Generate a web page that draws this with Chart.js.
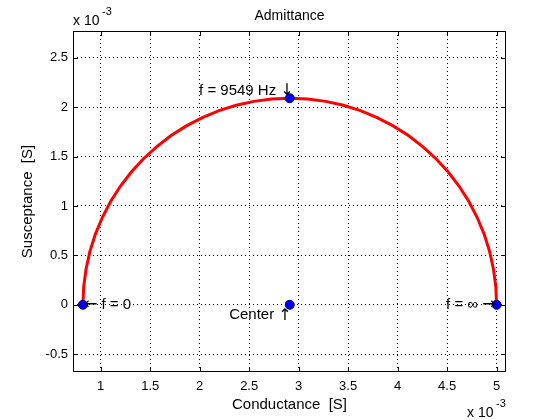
<!DOCTYPE html>
<html>
<head>
<meta charset="utf-8">
<script src="https://cdn.jsdelivr.net/npm/chart.js@4/dist/chart.umd.min.js"></script>
<style>
  html, body { margin: 0; padding: 0; background: #fff; }
</style>
</head>
<body>
<canvas id="admittance" width="560" height="420"></canvas>
<script>
// values in units of 10^-3 S
const conductance = [0.82, 0.828, 0.852, 0.891, 0.946, 1.016, 1.100, 1.198, 1.309, 1.432,
  1.567, 1.711, 1.865, 2.027, 2.195, 2.369, 2.547, 2.728, 2.91, 3.092, 3.273, 3.451,
  3.625, 3.793, 3.955, 4.109, 4.253, 4.388, 4.511, 4.622, 4.720, 4.804, 4.874, 4.929,
  4.968, 4.992, 5.00];
const susceptance = [0, 0.182, 0.363, 0.541, 0.715, 0.883, 1.045, 1.199, 1.343, 1.478,
  1.601, 1.712, 1.810, 1.894, 1.964, 2.019, 2.058, 2.082, 2.09, 2.082, 2.058, 2.019,
  1.964, 1.894, 1.810, 1.712, 1.601, 1.478, 1.343, 1.199, 1.045, 0.883, 0.715, 0.541,
  0.363, 0.182, 0];

const markerG = [0.82, 2.91, 2.91, 5.0];
const markerB = [0, 2.09, 0, 0];
const markerText = ['\u2190 f = 0', 'f = 9549 Hz \u2193', 'Center \u2191', 'f = \u221e \u2192'];

const xLimits = [0.72, 5.095];
const yLimits = [-0.68, 2.77];

const FONT = "'Liberation Sans', Arial, sans-serif";
const TEXT_FONT = '15px ' + FONT;
const ARROW_FONT = "16px 'DejaVu Sans', sans-serif";

// draws a label, arrows in a font that has proper-sized arrow glyphs
function drawLabel(ctx, text, x, y, align) {
  const parts = text.split(/([\u2190-\u2193])/).filter(s => s.length);
  const widths = parts.map(p => {
    ctx.font = /[\u2190-\u2193]/.test(p) ? ARROW_FONT : TEXT_FONT;
    return ctx.measureText(p).width;
  });
  const total = widths.reduce((s, w) => s + w, 0);
  let cx = align === 'right' ? x - total : x;
  ctx.textAlign = 'left';
  parts.forEach((p, i) => {
    ctx.font = /[\u2190-\u2193]/.test(p) ? ARROW_FONT : TEXT_FONT;
    ctx.fillText(p, cx, y);
    cx += widths[i];
  });
}

// frame, inward ticks, titles, exponent notes and point labels
const decorations = {
  id: 'decorations',
  afterDatasetsDraw(chart) {
    const ctx = chart.ctx;
    const a = chart.chartArea;
    const xs = chart.scales.x, ys = chart.scales.y;
    ctx.save();
    ctx.strokeStyle = '#000';
    ctx.lineWidth = 1;
    ctx.strokeRect(Math.round(a.left) + 0.5, Math.round(a.top) + 0.5,
      Math.round(a.right - a.left) - 1, Math.round(a.bottom - a.top) - 1);
    ctx.beginPath();
    xs.ticks.forEach(t => {
      const px = Math.round(xs.getPixelForValue(t.value)) + 0.5;
      ctx.moveTo(px, a.bottom); ctx.lineTo(px, a.bottom - 5);
      ctx.moveTo(px, a.top); ctx.lineTo(px, a.top + 5);
    });
    ys.ticks.forEach(t => {
      const py = Math.round(ys.getPixelForValue(t.value)) + 0.5;
      ctx.moveTo(a.left, py); ctx.lineTo(a.left + 5, py);
      ctx.moveTo(a.right, py); ctx.lineTo(a.right - 5, py);
    });
    ctx.stroke();

    ctx.fillStyle = '#000';
    const cx = (a.left + a.right) / 2;
    ctx.font = '14px ' + FONT;
    ctx.textAlign = 'center';
    ctx.textBaseline = 'middle';
    ctx.fillText('Admittance', cx, 16);
    ctx.font = '15px ' + FONT;
    ctx.fillText('Conductance  [S]', cx, 405);
    ctx.save();
    ctx.translate(28, (a.top + a.bottom) / 2);
    ctx.rotate(-Math.PI / 2);
    ctx.fillText('Susceptance  [S]', 0, 0);
    ctx.restore();

    // exponent notes
    ctx.textAlign = 'left';
    ctx.textBaseline = 'alphabetic';
    ctx.font = '14px ' + FONT;
    ctx.fillText('x 10', a.left, 25);
    ctx.fillText('x 10', a.right - 39, 417);
    ctx.font = '11px ' + FONT;
    ctx.fillText('-3', a.left + 29, 15);
    ctx.fillText('-3', a.right - 10, 407);

    // point labels
    const pts = chart.getDatasetMeta(0).data;
    const p0 = pts[0], p1 = pts[1], p2 = pts[2], p3 = pts[3];
    ctx.textBaseline = 'middle';
    drawLabel(ctx, markerText[0], p0.x + 1, p0.y, 'left');
    drawLabel(ctx, markerText[3], p3.x - 1, p3.y, 'right');
    ctx.textBaseline = 'alphabetic';
    drawLabel(ctx, markerText[1], p1.x + 4, p1.y - 3, 'right');
    ctx.textBaseline = 'top';
    drawLabel(ctx, markerText[2], p2.x + 2, p2.y + 3, 'right');
    ctx.restore();
  }
};

const ctx = document.getElementById('admittance');
new Chart(ctx, {
  type: 'scatter',
  data: {
    datasets: [
      {
        data: markerG.map((g, i) => ({ x: g, y: markerB[i] })),
        pointRadius: 4.5,
        pointBackgroundColor: '#0000e6',
        pointBorderColor: '#00008b',
        pointBorderWidth: 1,
        showLine: false,
        order: 0
      },
      {
        data: conductance.map((g, i) => ({ x: g, y: susceptance[i] })),
        showLine: true,
        borderColor: '#ff0000',
        borderWidth: 3,
        pointRadius: 0,
        tension: 0,
        order: 1
      }
    ]
  },
  options: {
    responsive: false,
    animation: false,
    maintainAspectRatio: false,
    layout: { padding: { left: 0, right: 54, top: 31, bottom: 0 } },
    plugins: { legend: { display: false }, tooltip: { enabled: false } },
    scales: {
      x: {
        type: 'linear',
        min: xLimits[0],
        max: xLimits[1],
        afterFit(scale) { scale.height = 48; },
        border: { display: false, dash: [1, 3] },
        grid: { color: '#000', lineWidth: 1, drawTicks: false },
        ticks: {
          stepSize: 0.5,
          includeBounds: false,
          padding: 7,
          color: '#000',
          font: { family: FONT, size: 13 },
          maxRotation: 0,
          callback: v => String(Math.round(v * 100) / 100)
        }
      },
      y: {
        type: 'linear',
        min: yLimits[0],
        max: yLimits[1],
        afterFit(scale) { scale.width = 73; },
        border: { display: false, dash: [1, 3] },
        grid: { color: '#000', lineWidth: 1, drawTicks: false },
        ticks: {
          stepSize: 0.5,
          includeBounds: false,
          padding: 5,
          color: '#000',
          font: { family: FONT, size: 13 },
          callback: v => String(Math.round(v * 100) / 100)
        }
      }
    }
  },
  plugins: [decorations]
});
</script>
</body>
</html>
